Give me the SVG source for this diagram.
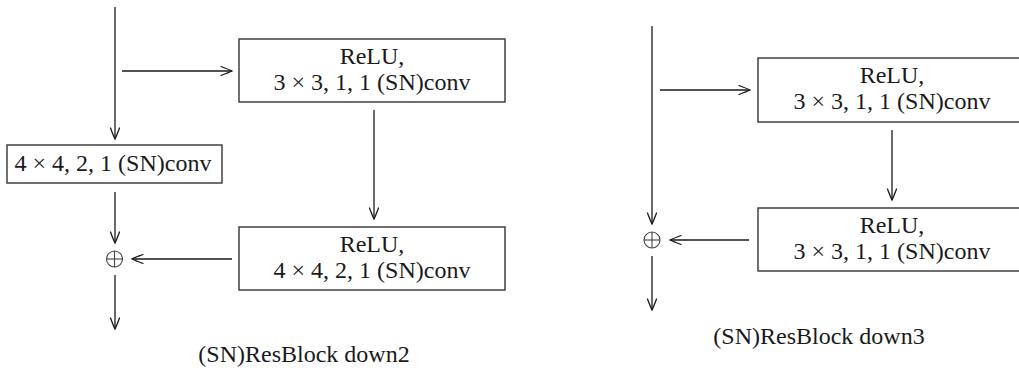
<svg xmlns="http://www.w3.org/2000/svg" width="1019" height="371" viewBox="0 0 1019 371">
  <defs>
    <style>
      .box { fill: #ffffff; stroke: #333333; stroke-width: 1.4; }
      .lbl { font-family: "Liberation Serif", "Times New Roman", serif; font-size: 24px; fill: #1a1a1a; text-anchor: middle; }
      .edge { fill: none; stroke: #1a1a1a; stroke-width: 1.3; }
      .plus { fill: none; stroke: #444444; stroke-width: 1.1; }
    </style>
    <marker id="arr" viewBox="-12 -6 14 12" refX="0" refY="0" markerWidth="14" markerHeight="12" markerUnits="userSpaceOnUse" orient="auto" overflow="visible">
      <path d="M -11,-4.5 Q -3,-1.5 0,0 Q -3,1.5 -11,4.5" fill="none" stroke="#1a1a1a" stroke-width="1.3" stroke-linecap="round"/>
    </marker>
  </defs>

  <!-- Left diagram: (SN)ResBlock down2 -->
  <g id="down2-conv-top">
    <rect class="box" x="239" y="39" width="266" height="63"/>
    <text class="lbl" x="372" y="64">ReLU,</text>
    <text class="lbl" x="372" y="90">3 × 3, 1, 1 (SN)conv</text>
  </g>
  <g id="down2-conv-bottom">
    <rect class="box" x="239" y="227" width="266" height="63"/>
    <text class="lbl" x="372" y="252">ReLU,</text>
    <text class="lbl" x="372" y="278">4 × 4, 2, 1 (SN)conv</text>
  </g>
  <g id="down2-shortcut">
    <rect class="box" x="7" y="145" width="215" height="38"/>
    <text class="lbl" x="113" y="171">4 × 4, 2, 1 (SN)conv</text>
  </g>
  <g id="down2-sum">
    <circle class="plus" cx="114.5" cy="259" r="8"/>
    <line class="plus" x1="106.5" y1="259" x2="122.5" y2="259"/>
    <line class="plus" x1="114.5" y1="251" x2="114.5" y2="267"/>
  </g>
  <g id="down2-caption">
    <text class="lbl" x="304" y="362">(SN)ResBlock down2</text>
  </g>

  <!-- Right diagram: (SN)ResBlock down3 -->
  <g id="down3-conv-top">
    <rect class="box" x="758" y="58" width="268" height="64"/>
    <text class="lbl" x="892" y="83">ReLU,</text>
    <text class="lbl" x="892" y="109">3 × 3, 1, 1 (SN)conv</text>
  </g>
  <g id="down3-conv-bottom">
    <rect class="box" x="758" y="208" width="268" height="63"/>
    <text class="lbl" x="892" y="233">ReLU,</text>
    <text class="lbl" x="892" y="259">3 × 3, 1, 1 (SN)conv</text>
  </g>
  <g id="down3-sum">
    <circle class="plus" cx="652" cy="240" r="8"/>
    <line class="plus" x1="644" y1="240" x2="660" y2="240"/>
    <line class="plus" x1="652" y1="232" x2="652" y2="248"/>
  </g>
  <g id="down3-caption">
    <text class="lbl" x="819" y="344">(SN)ResBlock down3</text>
  </g>

  <g id="connectors">
    <!-- left -->
    <line class="edge" x1="115" y1="7" x2="115" y2="139" marker-end="url(#arr)"/>
    <line class="edge" x1="122" y1="71" x2="232" y2="71" marker-end="url(#arr)"/>
    <line class="edge" x1="374" y1="110" x2="374" y2="219" marker-end="url(#arr)"/>
    <line class="edge" x1="115" y1="192" x2="115" y2="243" marker-end="url(#arr)"/>
    <line class="edge" x1="232" y1="259" x2="132" y2="259" marker-end="url(#arr)"/>
    <line class="edge" x1="115" y1="275" x2="115" y2="329" marker-end="url(#arr)"/>
    <!-- right -->
    <line class="edge" x1="652" y1="26" x2="652" y2="224" marker-end="url(#arr)"/>
    <line class="edge" x1="660" y1="90" x2="750" y2="90" marker-end="url(#arr)"/>
    <line class="edge" x1="892" y1="130" x2="892" y2="200" marker-end="url(#arr)"/>
    <line class="edge" x1="749" y1="240" x2="670" y2="240" marker-end="url(#arr)"/>
    <line class="edge" x1="652" y1="256" x2="652" y2="310" marker-end="url(#arr)"/>
  </g>
</svg>
